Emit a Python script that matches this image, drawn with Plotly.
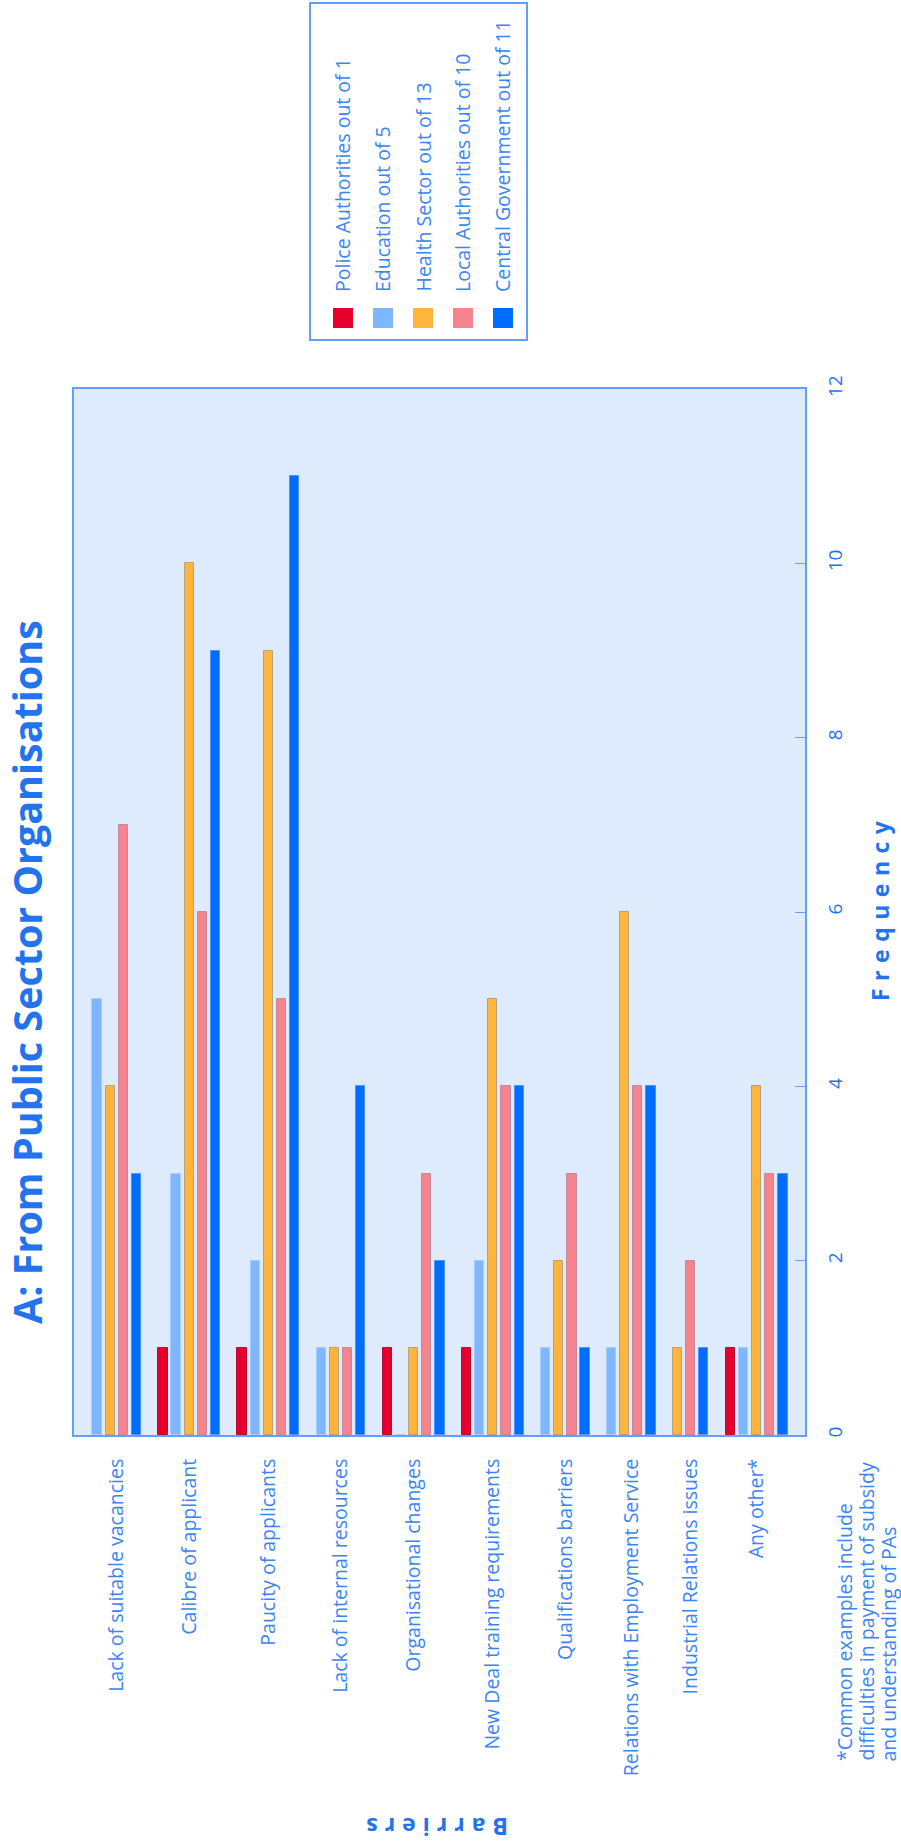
import plotly.graph_objects as go

# Barrier categories (left to right)
categories = [
    "Lack of suitable vacancies",
    "Calibre of applicant",
    "Paucity of applicants",
    "Lack of internal resources",
    "Organisational changes",
    "New Deal training requirements",
    "Qualifications barriers",
    "Relations with Employment Service",
    "Industrial Relations issues",
    "Any other*",
]

# Frequency per organisation type
police_authorities = [0, 1, 1, 0, 1, 1, 0, 0, 0, 1]
education = [5, 3, 2, 1, 0, 2, 1, 1, 0, 1]
health_sector = [4, 10, 9, 1, 1, 5, 2, 6, 1, 4]
local_authorities = [7, 6, 5, 1, 3, 4, 3, 4, 2, 3]
central_government = [3, 9, 11, 4, 2, 4, 1, 4, 1, 3]

series_names = [
    "Police Authorities out of 1",
    "Education out of 5",
    "Health Sector out of 13",
    "Local Authorities out of 10",
    "Central Government out of 11",
]
series_values = [police_authorities, education, health_sector,
                 local_authorities, central_government]

y_ticks = [0, 2, 4, 6, 8, 10, 12]

colors = ["#E5002E", "#80B6FF", "#FFB43C", "#F5848F", "#006DFF"]
edge_colors = ["#B40A33", "#A6CBFF", "#B7A07A", "#C3899B", "#4A93FF"]
BLUE = "#2473EE"
LABEL_BLUE = "#3A84F5"
AXIS_BLUE = "#62A0F7"
FONT = "Open Sans"
TEXT_SIZE = 19.5

# Bars sit in consecutive slots; each group starts at its first non-zero
# series and groups are separated by one empty slot.
positions = [[None] * len(categories) for _ in series_values]
group_centres = []
cursor = 0
for c in range(len(categories)):
    first = next(j for j, s in enumerate(series_values) if s[c] > 0)
    slots = []
    for j in range(first, len(series_values)):
        positions[j][c] = cursor
        slots.append(cursor)
        cursor += 1
    group_centres.append(sum(slots) / len(slots))
    cursor += 1

fig = go.Figure()
for name, vals, pos, col, edge in zip(series_names, series_values, positions,
                                      colors, edge_colors):
    xs = [p for p in pos if p is not None]
    ys = [v for v, p in zip(vals, pos) if p is not None]
    fig.add_trace(go.Bar(
        x=xs, y=ys, name=name, width=0.7,
        marker=dict(color=col, line=dict(color=edge, width=1)),
        showlegend=False,
    ))

# plot area in pixels
L, R, T, B = 74, 805, 389, 1435
W, H = 901, 1843


def px_x(px):
    return (px - L) / (R - L)


def px_y(py):
    return (B - py) / (B - T)


fig.update_layout(
    width=W, height=H,
    margin=dict(l=L, r=W - R, t=T, b=H - B, pad=0),
    paper_bgcolor="white",
    plot_bgcolor="#DDEBFC",
    bargap=0,
    font=dict(family=FONT, color=LABEL_BLUE, size=TEXT_SIZE),
)

fig.update_xaxes(
    type="linear", range=[-1.74, 53.67],
    tickmode="array", tickvals=group_centres, ticktext=categories,
    tickangle=-90, tickfont=dict(size=TEXT_SIZE, color=LABEL_BLUE, family=FONT),
    ticks="", ticklabelstandoff=14,
    showline=True, linecolor=AXIS_BLUE, linewidth=2, mirror=True,
    showgrid=False, zeroline=False,
)
fig.update_yaxes(
    side="right", range=[0, 12], tickmode="array", tickvals=y_ticks,
    tickangle=-90, tickfont=dict(size=19, color=BLUE, family=FONT),
    ticks="inside", ticklen=10, tickcolor=AXIS_BLUE, tickwidth=1,
    ticklabelstandoff=12,
    showline=True, linecolor=AXIS_BLUE, linewidth=2, mirror=True,
    showgrid=False, zeroline=False,
)

annotations = []
# chart title
annotations.append(dict(
    text="<b>A: From Public Sector Organisations</b>",
    x=px_x(27), y=px_y(972), xref="paper", yref="paper",
    textangle=-90, showarrow=False, xanchor="center", yanchor="middle",
    font=dict(size=39.5, color=BLUE, family=FONT),
))
# value axis title
annotations.append(dict(
    text='<b><span style="letter-spacing:7.5px">Frequency</span></b>',
    x=px_x(880), y=px_y(908), xref="paper", yref="paper",
    textangle=-90, showarrow=False, xanchor="center", yanchor="middle",
    font=dict(size=23, color=BLUE, family=FONT),
))
# category axis title
annotations.append(dict(
    text='<b><span style="letter-spacing:7px">Barriers</span></b>',
    x=px_x(434), y=px_y(1827), xref="paper", yref="paper",
    textangle=180, showarrow=False, xanchor="center", yanchor="middle",
    font=dict(size=23, color=BLUE, family=FONT),
))
# footnote
footnote = ["*Common examples include",
            "difficulties in payment of subsidy",
            "and understanding of PAs"]
for i, line in enumerate(footnote):
    annotations.append(dict(
        text=line, x=px_x(845 + 21.5 * i), y=px_y(1763),
        xref="paper", yref="paper", textangle=-90, showarrow=False,
        xanchor="center", yanchor="bottom",
        font=dict(size=TEXT_SIZE, color=LABEL_BLUE, family=FONT),
    ))

shapes = []
# legend box
shapes.append(dict(
    type="rect", xref="paper", yref="paper",
    x0=px_x(310), x1=px_x(527), y0=px_y(340), y1=px_y(3),
    line=dict(color=AXIS_BLUE, width=2), fillcolor="white", layer="below",
))
for i, (name, col) in enumerate(zip(series_names, colors)):
    cx = 343 + 40 * i
    shapes.append(dict(
        type="rect", xref="paper", yref="paper",
        x0=px_x(cx - 10), x1=px_x(cx + 10), y0=px_y(328), y1=px_y(308),
        line=dict(color=col, width=0), fillcolor=col,
    ))
    annotations.append(dict(
        text=name, x=px_x(cx), y=px_y(294), xref="paper", yref="paper",
        textangle=-90, showarrow=False, xanchor="center", yanchor="bottom",
        font=dict(size=TEXT_SIZE, color=LABEL_BLUE, family=FONT),
    ))

fig.update_layout(annotations=annotations, shapes=shapes)

fig.write_html("out.html")
